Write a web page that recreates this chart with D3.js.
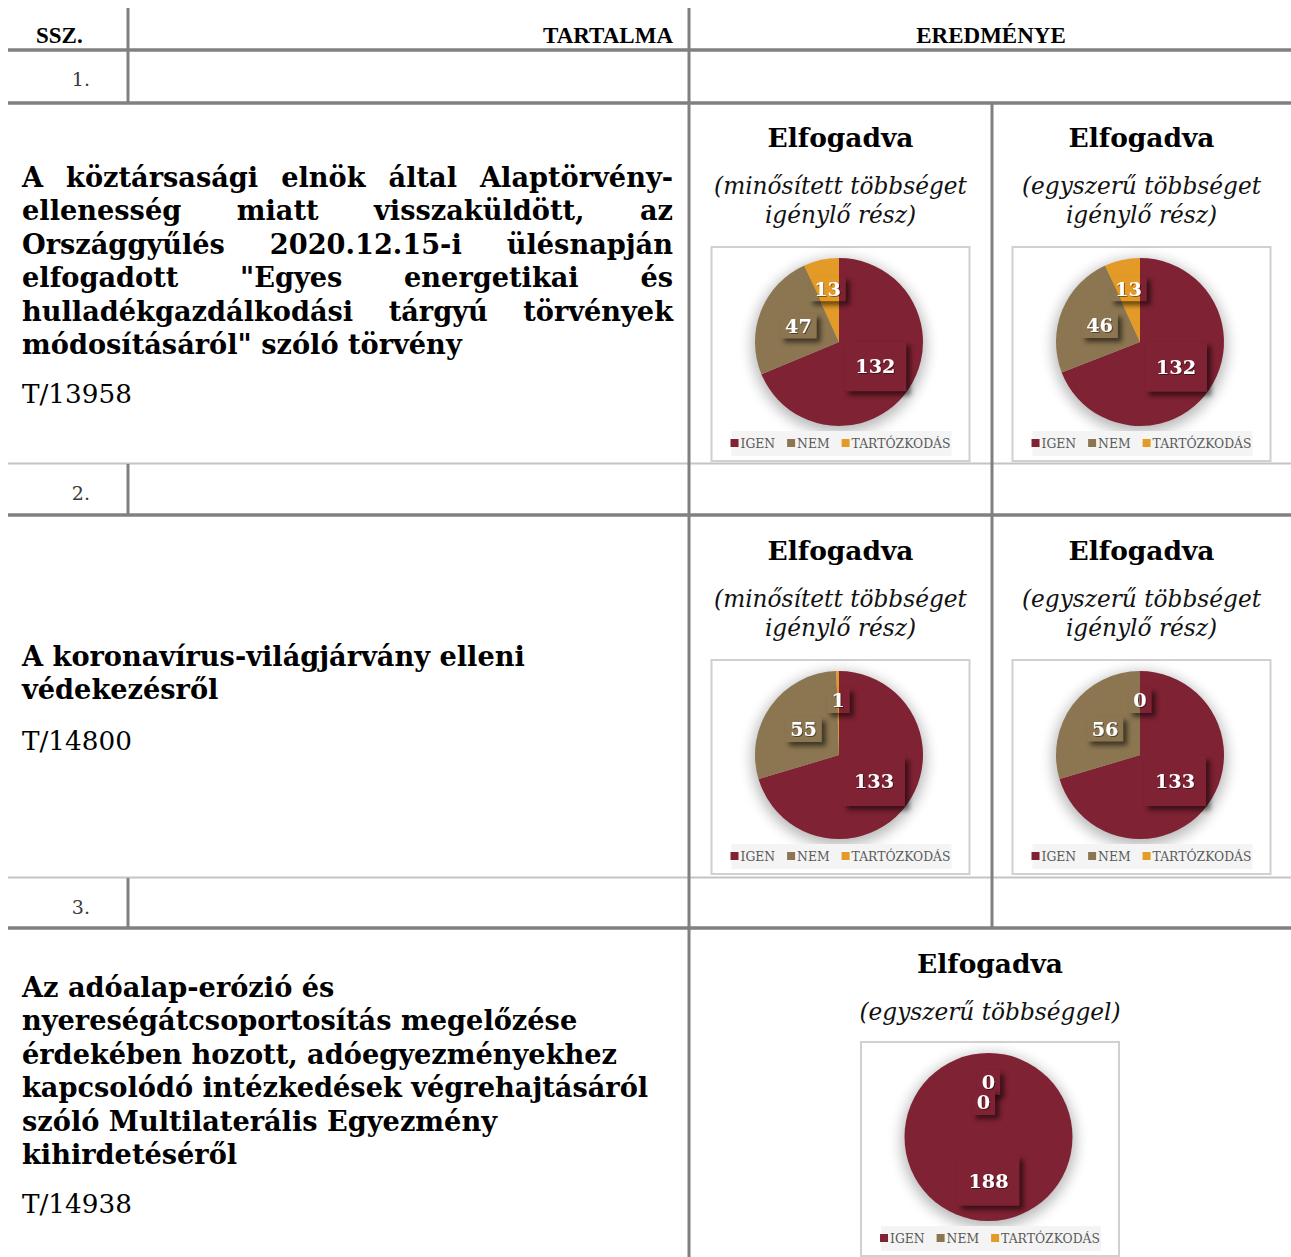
<!DOCTYPE html>
<html><head><meta charset="utf-8">
<script src="https://cdn.jsdelivr.net/npm/d3@7"></script>
<style>body{margin:0;background:#fff}svg{display:block}</style>
</head><body>
<svg id="c" width="1291" height="1257"></svg>
<script>
// ---------- data ----------
const categories = ["IGEN", "NEM", "TARTÓZKODÁS"];
const categoryColors = ["#7f2233", "#8b7651", "#e39a26"];
const headers = ["SSZ.", "TARTALMA", "EREDMÉNYE"];
const rowNumbers = ["1.", "2.", "3."];
const chartTitle = "Elfogadva";
const subtitleQualified = ["(minősített többséget", "igénylő rész)"];
const subtitleSimple = ["(egyszerű többséget", "igénylő rész)"];
const subtitleRow3 = ["(egyszerű többséggel)"];
const votes1Qualified = [132, 47, 13];
const votes1Simple = [132, 46, 13];
const votes2Qualified = [133, 55, 1];
const votes2Simple = [133, 56, 0];
const votes3 = [188, 0, 0];
const row1Lines = ["A köztársasági elnök által Alaptörvény-", "ellenesség miatt visszaküldött, az",
  "Országgyűlés 2020.12.15-i ülésnapján", "elfogadott \"Egyes energetikai és",
  "hulladékgazdálkodási tárgyú törvények", "módosításáról\" szóló törvény"];
const row1Id = "T/13958";
const row2Lines = ["A koronavírus-világjárvány elleni", "védekezésről"];
const row2Id = "T/14800";
const row3Lines = ["Az adóalap-erózió és", "nyereségátcsoportosítás megelőzése",
  "érdekében hozott, adóegyezményekhez", "kapcsolódó intézkedések végrehajtásáról",
  "szóló Multilaterális Egyezmény", "kihirdetéséről"];
const row3Id = "T/14938";

// ---------- fonts ----------
const SERIF = "'DejaVu Serif', serif";
const TIMES = "'Liberation Serif', serif";
const cv = document.createElement("canvas").getContext("2d");
function measure(text, weight, style, size, fam) {
  cv.font = `${style} ${weight} ${size}px ${fam}`;
  return cv.measureText(text).width;
}
function fit(text, weight, style, target, fam = SERIF) {
  return 100 * target / measure(text, weight, style, 100, fam);
}
const boldSize = fit("A koronavírus-világjárvány elleni", "bold", "normal", 503);
const regSize = fit("T/13958", "normal", "normal", 110);
const titleSize = fit("Elfogadva", "bold", "normal", 146);
const italicSize = fit("(minősített többséget", "normal", "italic", 253);
const legendSize = fit("TARTÓZKODÁS", "normal", "normal", 99);
const labelSize = fit("132", "bold", "normal", 40);
const headerSize = fit("TARTALMA", "bold", "normal", 130, TIMES);

const svg = d3.select("#c");
const defs = svg.append("defs");
const glow = defs.append("filter").attr("id", "glow").attr("x", "-30%").attr("y", "-30%").attr("width", "160%").attr("height", "160%");
glow.append("feGaussianBlur").attr("stdDeviation", 7);
const lsh = defs.append("filter").attr("id", "lsh").attr("x", "-50%").attr("y", "-50%").attr("width", "200%").attr("height", "200%");
lsh.append("feGaussianBlur").attr("stdDeviation", 2.4);
const tsh = defs.append("filter").attr("id", "tsh");
tsh.append("feDropShadow").attr("dx", 1).attr("dy", 1).attr("stdDeviation", 0.7).attr("flood-color", "#000").attr("flood-opacity", 0.45);

// ---------- table lines ----------
const G = "#808080", GL = "#c4c4c4";
const hlines = [
  {y: 50, w: 3.5, c: G}, {y: 103, w: 3.5, c: G}, {y: 463.5, w: 2, c: GL},
  {y: 515, w: 3.5, c: G}, {y: 877.5, w: 2, c: GL}, {y: 928, w: 3.5, c: G}];
svg.selectAll(".hl").data(hlines).join("line")
  .attr("x1", 8).attr("x2", 1291).attr("y1", d => d.y).attr("y2", d => d.y)
  .attr("stroke", d => d.c).attr("stroke-width", d => d.w);
const vlines = [
  {x: 128, y1: 8, y2: 103}, {x: 128, y1: 464, y2: 515}, {x: 128, y1: 878, y2: 928},
  {x: 689, y1: 8, y2: 1257}, {x: 992, y1: 104, y2: 928}];
svg.selectAll(".vl").data(vlines).join("line")
  .attr("x1", d => d.x).attr("x2", d => d.x).attr("y1", d => d.y1).attr("y2", d => d.y2)
  .attr("stroke", G).attr("stroke-width", 3);

// headers
const hdr = svg.append("g").attr("font-family", TIMES).attr("font-weight", "bold").attr("font-size", headerSize).attr("fill", "#000");
hdr.append("text").attr("x", 36).attr("y", 43).text(headers[0]);
hdr.append("text").attr("x", 673).attr("y", 43).attr("text-anchor", "end").text(headers[1]);
hdr.append("text").attr("x", 991).attr("y", 43).attr("text-anchor", "middle").text(headers[2]);

// row numbers
const rnY = [86, 500, 914];
svg.selectAll(".rn").data(rowNumbers).join("text")
  .attr("x", 90).attr("y", (d, i) => rnY[i]).attr("text-anchor", "end")
  .attr("font-family", SERIF).attr("font-size", 19).attr("fill", "#3a3a3a").text(d => d);

// ---------- left text ----------
function textBlock(lines, y0, lh, justify) {
  const g = svg.append("g").attr("font-family", SERIF).attr("font-weight", "bold").attr("font-size", boldSize);
  lines.forEach((line, i) => {
    const y = y0 + i * lh;
    if (justify && i < lines.length - 1) {
      const words = line.split(" ");
      const ws = words.map(w => measure(w, "bold", "normal", boldSize, SERIF));
      const gap = (673 - 22 - d3.sum(ws)) / (words.length - 1);
      let x = 22;
      words.forEach((w, j) => { g.append("text").attr("x", x).attr("y", y).text(w); x += ws[j] + gap; });
    } else {
      g.append("text").attr("x", 22).attr("y", y).text(line);
    }
  });
}
textBlock(row1Lines, 187, 33.4, true);
textBlock(row2Lines, 666, 33.4, false);
textBlock(row3Lines, 997, 33.4, false);
[[row1Id, 403], [row2Id, 750], [row3Id, 1213]].forEach(([t, y]) =>
  svg.append("text").attr("x", 22).attr("y", y).attr("font-family", SERIF).attr("font-size", regSize).text(t));

// ---------- charts ----------
let clipN = 0;
function chartCell(cx, top, subtitle, values, boxTopOffset) {
  const g = svg.append("g");
  g.append("text").attr("x", cx).attr("y", top + 43).attr("text-anchor", "middle")
    .attr("font-family", SERIF).attr("font-weight", "bold").attr("font-size", titleSize).text(chartTitle);
  subtitle.forEach((s, i) => g.append("text").attr("x", cx).attr("y", top + 90 + i * 29).attr("text-anchor", "middle")
    .attr("font-family", SERIF).attr("font-style", "italic").attr("font-size", italicSize).attr("fill", "#111").text(s));
  const bx = cx - 129, by = top + boxTopOffset, bw = 258, bh = 214;
  g.append("rect").attr("x", bx).attr("y", by).attr("width", bw).attr("height", bh)
    .attr("fill", "#fff").attr("stroke", "#d0d0d0").attr("stroke-width", 2);
  const pcx = bx + 127.5, pcy = by + 95, r = 84;
  const data = categories.map((c, i) => ({cat: c, v: values[i], i}));
  const arcs = d3.pie().sort(null).value(d => d.v)(data);
  const arc = d3.arc().innerRadius(0).outerRadius(r);
  const color = d3.scaleOrdinal().domain(categories).range(categoryColors);
  const pg = g.append("g").attr("transform", `translate(${pcx},${pcy})`);
  pg.append("circle").attr("cx", 0).attr("cy", 4).attr("r", r + 3).attr("fill", "#000").attr("opacity", 0.28).attr("filter", "url(#glow)");
  pg.selectAll("path.s").data(arcs).join("path").attr("class", "s").attr("d", arc).attr("fill", d => color(d.data.cat));
  // labels
  const placed = [];
  arcs.forEach(d => {
    const txt = String(d.data.v);
    const tw = measure(txt, "bold", "normal", labelSize, SERIF);
    const small = (d.endAngle - d.startAngle) < 0.5;
    const lr = r * (small ? 0.65 : 0.52);
    let [x, y] = d3.arc().innerRadius(lr).outerRadius(lr).centroid(d);
    const big = d.data.i === 0;
    const w = big ? tw + 22 : tw + 10, h = big ? 50 : 25;
    placed.forEach(p => {
      if (Math.abs(p.x - x) < (p.w + w) / 2 && Math.abs(p.y - y) < (p.h + h) / 2) { x -= 5; y += 20; }
    });
    placed.push({x, y, w, h});
    const id = "lc" + (clipN++);
    defs.append("clipPath").attr("id", id).append("rect").attr("x", x - w / 2).attr("y", y - h / 2).attr("width", w).attr("height", h);
    pg.append("rect").attr("x", x - w / 2 + 4).attr("y", y - h / 2 + 4).attr("width", w).attr("height", h)
      .attr("fill", "#000").attr("opacity", 0.55).attr("filter", "url(#lsh)");
    pg.append("g").attr("clip-path", `url(#${id})`).selectAll("path").data(arcs).join("path")
      .attr("d", arc).attr("fill", e => color(e.data.cat));
    pg.append("text").attr("x", x).attr("y", y + labelSize * 0.36).attr("text-anchor", "middle")
      .attr("font-family", SERIF).attr("font-weight", "bold").attr("font-size", labelSize)
      .attr("fill", "#fff").attr("filter", "url(#tsh)").text(txt);
  });
  // legend
  g.append("rect").attr("x", bx + 20).attr("y", by + 184).attr("width", 220).attr("height", 25).attr("fill", "#f4f4f4");
  const tws = categories.map(c => measure(c, "normal", "normal", legendSize, SERIF));
  const total = d3.sum(tws) + categories.length * 10 + (categories.length - 1) * 12;
  let lx = pcx + 1.5 - total / 2;
  categories.forEach((c, i) => {
    g.append("rect").attr("x", lx).attr("y", by + 192).attr("width", 8).attr("height", 8).attr("fill", color(c));
    g.append("text").attr("x", lx + 10).attr("y", by + 200.5).attr("font-family", SERIF).attr("font-size", legendSize)
      .attr("fill", "#595959").text(c);
    lx += 10 + tws[i] + 12;
  });
}
chartCell(840.5, 104, subtitleQualified, votes1Qualified, 143);
chartCell(1141.5, 104, subtitleSimple, votes1Simple, 143);
chartCell(840.5, 517, subtitleQualified, votes2Qualified, 143);
chartCell(1141.5, 517, subtitleSimple, votes2Simple, 143);
chartCell(990, 930, subtitleRow3, votes3, 112);
</script>
</body></html>
